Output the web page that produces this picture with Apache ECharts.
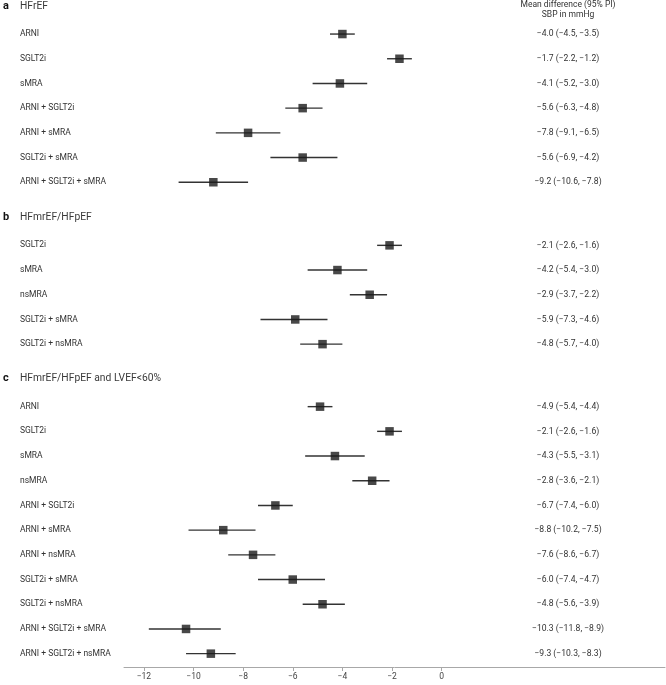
<!DOCTYPE html>
<html>
<head>
<meta charset="utf-8">
<script src="https://cdn.jsdelivr.net/npm/echarts@6/dist/echarts.min.js"></script>
<style>
html,body{margin:0;padding:0;background:#fff}
#chart{width:666px;height:685px}
</style>
</head>
<body>
<div id="chart"></div>
<script>
// panel a - HFrEF
var catsA = ['ARNI', 'SGLT2i', 'sMRA', 'ARNI + SGLT2i', 'ARNI + sMRA', 'SGLT2i + sMRA', 'ARNI + SGLT2i + sMRA'];
var meanA = [-4.0, -1.7, -4.1, -5.6, -7.8, -5.6, -9.2];
var lowA  = [-4.5, -2.2, -5.2, -6.3, -9.1, -6.9, -10.6];
var highA = [-3.5, -1.2, -3.0, -4.8, -6.5, -4.2, -7.8];

// panel b - HFmrEF/HFpEF
var catsB = ['SGLT2i', 'sMRA', 'nsMRA', 'SGLT2i + sMRA', 'SGLT2i + nsMRA'];
var meanB = [-2.1, -4.2, -2.9, -5.9, -4.8];
var lowB  = [-2.6, -5.4, -3.7, -7.3, -5.7];
var highB = [-1.6, -3.0, -2.2, -4.6, -4.0];

// panel c - HFmrEF/HFpEF and LVEF<60%
var catsC = ['ARNI', 'SGLT2i', 'sMRA', 'nsMRA', 'ARNI + SGLT2i', 'ARNI + sMRA', 'ARNI + nsMRA',
             'SGLT2i + sMRA', 'SGLT2i + nsMRA', 'ARNI + SGLT2i + sMRA', 'ARNI + SGLT2i + nsMRA'];
var meanC = [-4.9, -2.1, -4.3, -2.8, -6.7, -8.8, -7.6, -6.0, -4.8, -10.3, -9.3];
var lowC  = [-5.4, -2.6, -5.5, -3.6, -7.4, -10.2, -8.6, -7.4, -5.6, -11.8, -10.3];
var highC = [-4.4, -1.6, -3.1, -2.1, -6.0, -7.5, -6.7, -4.7, -3.9, -8.9, -8.3];

var xTicks = [-12, -10, -8, -6, -4, -2, 0];

var FONT = 'Roboto, "Noto Sans", sans-serif';
var ROW = 24.7;

function fmt(v) { return v.toFixed(1).replace('-', '\u2212'); }
function ciText(m, l, h) { return fmt(m) + ' (' + fmt(l) + ', ' + fmt(h) + ')'; }

var panels = [
    {letter: 'a', name: 'HFrEF', cats: catsA, mean: meanA, low: lowA, high: highA, top: 21.7, headY: 6.5},
    {letter: 'b', name: 'HFmrEF/HFpEF', cats: catsB, mean: meanB, low: lowB, high: highB, top: 233, headY: 217},
    {letter: 'c', name: 'HFmrEF/HFpEF and LVEF<60%', cats: catsC, mean: meanC, low: lowC, high: highC, top: 394.3, headY: 378}
];

var grids = [], xAxes = [], yAxes = [], series = [], graphics = [];

panels.forEach(function (p, i) {
    var last = i === panels.length - 1;
    grids.push({left: 124, right: 1, top: p.top, height: ROW * p.cats.length});
    xAxes.push({
        gridIndex: i, type: 'value', min: -12.8, max: 9, show: last, offset: 1,
        axisLine: {show: true, lineStyle: {color: '#a8a8a8', width: 1}},
        axisTick: {show: true, length: 4, customValues: xTicks, lineStyle: {color: '#a8a8a8'}},
        axisLabel: {customValues: xTicks, fontSize: 8.5, color: '#444', fontFamily: FONT, margin: 5,
            formatter: function (v) { return String(v).replace('-', '\u2212'); }},
        splitLine: {show: false}
    });
    // left labels
    yAxes.push({
        gridIndex: i, type: 'category', data: p.cats, inverse: true,
        axisLine: {show: false}, axisTick: {show: false}, splitLine: {show: false},
        axisLabel: {align: 'left', margin: 104, fontSize: 8.5, color: '#333', fontFamily: FONT}
    });
    // right column: estimate text
    yAxes.push({
        gridIndex: i, type: 'category', data: p.cats, inverse: true, position: 'right',
        axisLine: {show: false}, axisTick: {show: false}, splitLine: {show: false},
        axisLabel: {inside: true, align: 'center', margin: 97, fontSize: 8.6, color: '#333', fontFamily: FONT,
            formatter: function (v, idx) { return ciText(p.mean[idx], p.low[idx], p.high[idx]); }}
    });

    series.push({
        type: 'custom', xAxisIndex: i, yAxisIndex: i * 2,
        data: p.cats.map(function (c, k) { return [p.low[k], p.high[k], k]; }),
        encode: {x: [0, 1], y: 2},
        renderItem: function (params, api) {
            var a = api.coord([api.value(0), api.value(2)]);
            var b = api.coord([api.value(1), api.value(2)]);
            return {type: 'line', shape: {x1: a[0], y1: a[1], x2: b[0], y2: b[1]},
                style: {stroke: '#333', lineWidth: 1.4}};
        },
        silent: true
    });
    series.push({
        type: 'scatter', xAxisIndex: i, yAxisIndex: i * 2,
        data: p.cats.map(function (c, k) { return [p.mean[k], k]; }),
        symbol: 'rect', symbolSize: 8.5,
        itemStyle: {color: '#1a1a1a'},
        z: 3, silent: true
    });

    graphics.push({type: 'text', x: 3, y: p.headY,
        style: {text: p.letter, font: 'bold 11px ' + FONT, fill: '#111', verticalAlign: 'middle'}});
    graphics.push({type: 'text', x: 20, y: p.headY,
        style: {text: p.name, font: '10.3px ' + FONT, fill: '#3a3a3a', verticalAlign: 'middle'}});
});

graphics.push({type: 'text', x: 568, y: 4.5,
    style: {text: 'Mean difference (95% PI)', font: '8.5px ' + FONT, fill: '#333', align: 'center', verticalAlign: 'middle'}});
graphics.push({type: 'text', x: 568, y: 15,
    style: {text: 'SBP in mmHg', font: '8.5px ' + FONT, fill: '#333', align: 'center', verticalAlign: 'middle'}});

var chart = echarts.init(document.getElementById('chart'), null, {renderer: 'canvas'});
chart.setOption({
    animation: false,
    backgroundColor: '#fff',
    grid: grids,
    xAxis: xAxes,
    yAxis: yAxes,
    series: series,
    graphic: graphics
});
</script>
</body>
</html>
